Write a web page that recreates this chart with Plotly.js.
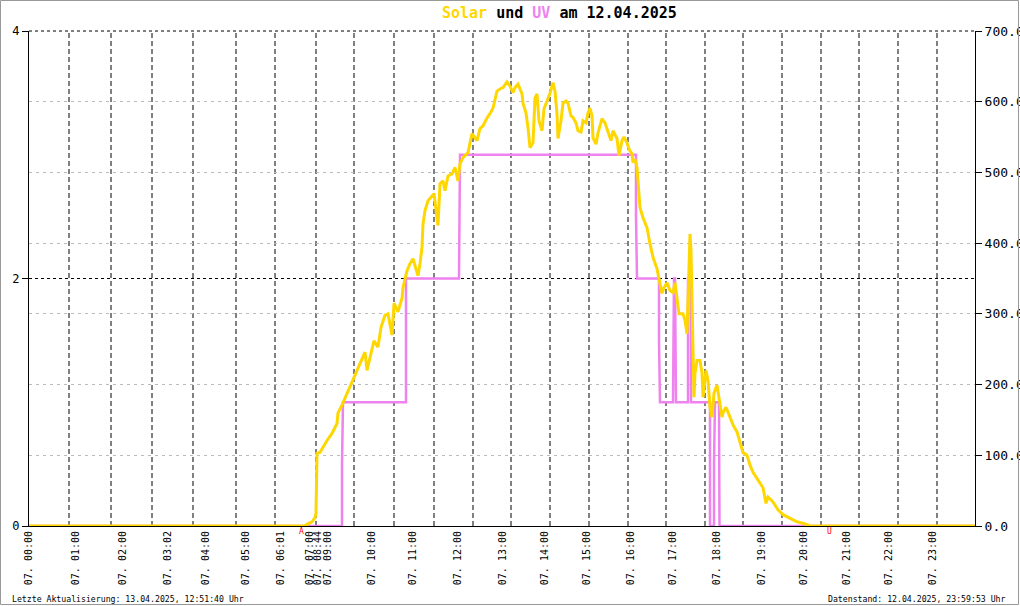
<!DOCTYPE html>
<html>
<head>
<meta charset="utf-8">
<script src="https://cdn.plot.ly/plotly-3.0.1.min.js"></script>
<style>html,body{margin:0;padding:0;background:#fff;}#chart{width:1020px;height:606px;}</style>
</head>
<body>
<div id="chart"></div>
<script>
// x values are sample-index positions along the (irregular) time axis
var tickPos = [0, 47, 94, 139, 177, 217, 252, 281, 289, 299, 343, 384, 429, 474, 516, 558, 602, 644, 688, 733, 775, 818, 860, 904];
var tickLabels = ["07. 00:00","07. 01:00","07. 02:00","07. 03:02","07. 04:00","07. 05:00","07. 06:01","07. 07:00","07. 08:44","07. 09:00","07. 10:00","07. 11:00","07. 12:00","07. 13:00","07. 14:00","07. 15:00","07. 16:00","07. 17:00","07. 18:00","07. 19:00","07. 20:00","07. 21:00","07. 22:00","07. 23:00"];
var gridPos = [40, 82, 123, 164, 207, 246, 287, 325, 365, 405, 444, 482, 521, 560, 599, 637, 676, 714, 753, 792, 830, 869, 908];

var solarX = [0,275,279,283,286,287,288,291,298,303,308,309,313,316,319,324,328,331,336,338,341,345,349,352,356,359,363,365,369,373,374,378,381,384,386,389,391,393,394,396,399,403,405,408,409,411,414,416,419,423,426,429,431,434,439,443,446,448,451,454,458,461,464,466,468,471,474,478,481,484,486,489,493,494,497,499,501,504,506,508,510,513,515,518,521,524,526,528,529,532,534,537,539,542,544,547,549,552,554,557,559,561,563,564,567,569,573,576,579,582,584,588,590,593,595,598,600,603,604,606,608,609,611,614,618,621,624,628,630,633,635,638,641,644,646,648,650,654,656,658,659,660,661,662,663,664,665,666,668,671,673,674,677,679,681,683,685,688,690,693,694,697,701,704,708,711,714,718,721,724,729,734,737,739,744,749,754,761,768,776,781,946];
var solarW = [0,0,3,6,12,18,103,104,121,131,145,160,171,181,192,206,220,230,246,220,238,262,253,281,298,300,270,315,303,322,337,361,371,378,368,354,371,394,427,446,460,467,470,436,425,484,488,474,495,498,507,488,512,521,528,555,549,545,562,566,577,583,591,604,615,618,620,628,622,613,620,625,611,598,584,563,535,542,605,611,573,559,590,601,612,627,615,583,548,573,598,601,598,580,578,570,559,557,573,570,584,591,580,549,540,556,576,570,556,545,559,548,524,545,550,542,533,526,514,519,507,488,450,436,422,399,380,364,351,329,337,344,333,330,344,319,300,300,291,272,323,380,413,389,309,244,182,216,234,234,216,182,220,206,168,154,188,199,178,154,160,168,154,143,133,117,104,100,86,76,65,54,32,41,34,23,16,11,6,3,0,0];

var uvX = [0,313,313,314,377,377,430,431,607,607,608,630,630,631,644,644.5,645,646,646.5,647,659,659,662,662,681,681,685,685,686,690,690.5,946];
var uvIdx = [0,0,0.5,1,1,2,2,3,3,2.5,2,2,1.5,1,1,1.5,2,2,1.5,1,1,2,2,1,1,0,0,0.5,1,1,0,0];

var riseSetPos = [272, 800];
var riseSetText = ["A", "U"];

var mono = "DejaVu Sans Mono, Liberation Mono, monospace";
var L = 29, T = 31, W = 946, H = 495;

var shapes = gridPos.map(function (g) {
  return {type: "line", xref: "x", yref: "paper", x0: g, x1: g, y0: 0, y1: 1,
          layer: "below", line: {color: "#000", width: 1, dash: "5px,3px"}};
});
shapes.push({type: "line", xref: "paper", yref: "paper", x0: 0, x1: 1, y0: 1, y1: 1,
  layer: "below", line: {color: "#000", width: 1, dash: "3px,3px"}});
shapes.push({type: "rect", xref: "paper", yref: "paper",
  x0: (0.5 - L) / W, x1: (1018.5 - L) / W, y0: -(604.5 - 526) / H, y1: 1 + (T - 0.5) / H,
  line: {color: "#999", width: 1}, fillcolor: "rgba(0,0,0,0)"});

var annotations = [
  {xref: "paper", yref: "paper", x: (559 - L) / W, y: 1 + (T - 13) / H, xanchor: "center", yanchor: "middle",
   showarrow: false, font: {family: mono, size: 15, color: "#000", weight: "bold"},
   text: '<span style="color:#FFD700">Solar</span> und <span style="color:#EE82EE">UV</span> am 12.04.2025'},
  {xref: "paper", yref: "paper", x: (10 - L) / W, y: -(599 - 526) / H, xanchor: "left", yanchor: "middle",
   showarrow: false, font: {family: mono, size: 8.2, color: "#000"},
   text: "Letzte Aktualisierung: 13.04.2025, 12:51:40 Uhr"},
  {xref: "paper", yref: "paper", x: (1008 - L) / W, y: -(599 - 526) / H, xanchor: "right", yanchor: "middle",
   showarrow: false, font: {family: mono, size: 8.2, color: "#000"},
   text: "Datenstand: 12.04.2025, 23:59:53 Uhr"}
];
riseSetPos.forEach(function (p, i) {
  annotations.push({xref: "x", yref: "paper", x: p, y: -(531 - 526) / H, xanchor: "center", yanchor: "middle",
    showarrow: false, font: {family: mono, size: 8, color: "#FF0000"}, text: riseSetText[i]});
});

var traces = [
  {x: solarX, y: solarW, yaxis: "y2", type: "scatter", mode: "lines",
   line: {color: "#FFD700", width: 3}, hoverinfo: "skip"},
  {x: uvX, y: uvIdx, yaxis: "y", type: "scatter", mode: "lines",
   line: {color: "#EE82EE", width: 2.5}, hoverinfo: "skip"}
];

var layout = {
  width: 1020, height: 606,
  margin: {l: L, r: 1020 - L - W, t: T, b: 606 - T - H, pad: 0},
  paper_bgcolor: "#fff", plot_bgcolor: "#fff",
  showlegend: false, hovermode: false,
  xaxis: {range: [0, W], showline: true, linecolor: "#000", linewidth: 1, showgrid: false, zeroline: false,
          tickmode: "array", tickvals: tickPos, ticktext: tickLabels, tickangle: -90, ticks: "",
          tickfont: {family: mono, size: 10, color: "#000"}, fixedrange: true},
  yaxis: {range: [0, 4], tickmode: "array", tickvals: [0, 2, 4], ticks: "outside", ticklen: 6, tickcolor: "#000",
          showline: true, linecolor: "#000", linewidth: 1, showgrid: true, gridcolor: "#000", griddash: "3px,3px",
          zeroline: false, tickfont: {family: mono, size: 12, color: "#000"}},
  yaxis2: {range: [0, 700], overlaying: "y", side: "right", tickmode: "linear", tick0: 0, dtick: 100,
           tickformat: ".1f", ticks: "outside", ticklen: 6, tickcolor: "#000",
           showline: true, linecolor: "#000", linewidth: 1, showgrid: true, gridcolor: "#bbb", griddash: "3px,4px",
           zeroline: false, tickfont: {family: mono, size: 13, color: "#000"}},
  shapes: shapes,
  annotations: annotations
};

Plotly.newPlot("chart", traces, layout, {staticPlot: true, displayModeBar: false});
</script>
</body>
</html>
